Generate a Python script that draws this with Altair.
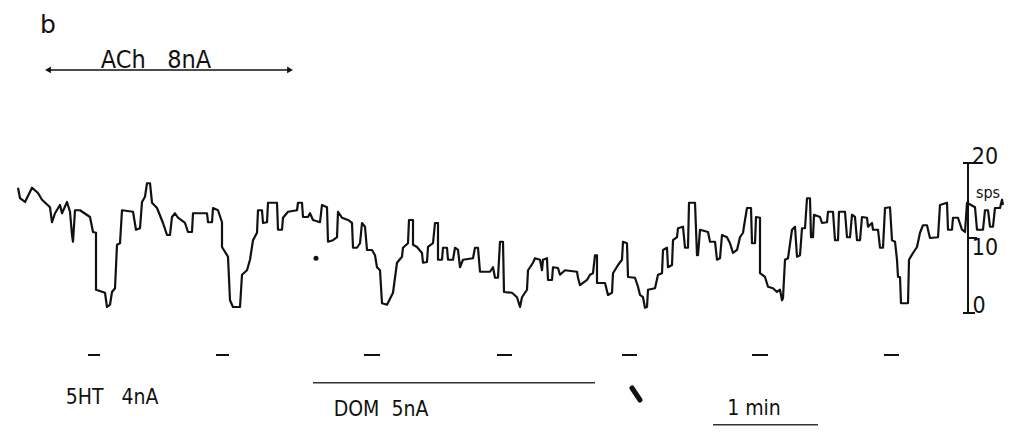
import altair as alt
import pandas as pd

# ---- firing-rate trace: time (min) and rate (spikes/s) ----
trace_t = [0.00,0.02,0.07,0.14,0.20,0.24,0.32,0.34,0.37,0.42,0.44,0.49,0.52,0.54,0.55,0.57,0.62,0.72,0.75,0.78,
           0.78,0.87,0.89,0.92,0.94,0.97,0.99,1.02,1.04,1.15,1.18,1.22,1.24,1.27,1.29,1.32,1.34,1.39,1.45,1.49,
           1.52,1.54,1.57,1.60,1.67,1.70,1.74,1.75,1.89,1.90,1.94,1.95,2.00,2.04,2.04,2.10,2.12,2.15,2.22,2.24,
           2.29,2.32,2.35,2.39,2.40,2.44,2.45,2.49,2.50,2.59,2.60,2.64,2.65,2.70,2.79,2.80,2.84,2.85,2.90,2.92,
           2.95,3.02,3.04,3.09,3.10,3.15,3.19,3.20,3.24,3.30,3.34,3.35,3.39,3.42,3.44,3.47,3.49,3.54,3.57,3.59,
           3.62,3.64,3.69,3.75,3.79,3.84,3.85,3.90,3.91,3.95,3.95,3.99,4.04,4.05,4.09,4.10,4.15,4.17,4.20,4.20,
           4.24,4.25,4.29,4.30,4.35,4.37,4.40,4.42,4.45,4.55,4.57,4.60,4.62,4.72,4.75,4.77,4.80,4.82,4.85,4.86,
           4.94,4.99,5.02,5.04,5.09,5.10,5.15,5.17,5.22,5.24,5.25,5.29,5.30,5.34,5.35,5.40,5.42,5.47,5.59,5.60,
           5.62,5.69,5.72,5.75,5.77,5.79,5.79,5.87,5.90,5.94,5.95,6.00,6.04,6.05,6.09,6.10,6.17,6.20,6.22,6.25,
           6.27,6.29,6.30,6.37,6.40,6.44,6.45,6.49,6.50,6.54,6.55,6.59,6.60,6.65,6.67,6.70,6.71,6.77,6.79,6.80,
           6.82,6.90,6.92,6.97,6.99,7.02,7.04,7.09,7.12,7.15,7.19,7.22,7.25,7.27,7.29,7.33,7.34,7.37,7.38,7.42,
           7.42,7.47,7.50,7.55,7.59,7.62,7.64,7.65,7.67,7.70,7.74,7.77,7.79,7.82,7.84,7.87,7.89,7.92,7.93,7.95,
           7.96,8.02,8.04,8.09,8.10,8.15,8.17,8.20,8.21,8.27,8.29,8.32,8.34,8.37,8.39,8.42,8.44,8.49,8.50,8.54,
           8.55,8.60,8.62,8.65,8.67,8.72,8.74,8.77,8.79,8.80,8.82,8.83,8.90,8.91,8.95,8.99,9.02,9.05,9.09,9.10,
           9.12,9.20,9.22,9.29,9.30,9.34,9.35,9.40,9.44,9.47,9.49,9.57,9.59,9.65,9.67,9.70,9.72,9.75,9.77,9.82,
           9.84,9.85]
trace_rate = [16.7,15.3,14.8,16.7,16.0,15.1,14.1,12.1,13.3,14.4,13.3,14.8,13.5,10.4,9.5,13.7,13.7,12.8,10.8,10.7,
              3.1,2.7,0.8,1.1,2.8,3.3,9.1,9.3,13.7,13.5,11.1,11.3,14.8,15.5,17.3,17.3,14.7,14.0,12.0,10.4,
              10.4,12.8,13.3,12.7,12.0,10.8,10.8,13.3,13.3,12.1,12.1,14.0,13.7,12.1,8.8,7.5,1.7,0.8,0.8,5.1,
              5.7,7.1,9.7,10.7,13.7,13.7,12.0,12.1,14.7,14.7,11.1,11.1,12.7,13.5,13.7,14.7,14.7,12.8,12.8,13.3,
              12.4,12.1,14.4,14.1,9.5,9.7,10.1,13.5,12.7,12.4,12.0,8.7,8.7,9.3,12.0,11.5,8.4,8.4,7.7,6.1,
              5.7,1.3,1.1,2.7,6.7,7.5,8.7,9.3,12.4,12.4,9.1,8.8,8.0,6.7,6.8,8.8,9.3,12.0,12.0,7.1,
              7.1,8.7,8.7,7.1,7.1,8.7,8.4,6.1,7.1,7.3,8.7,8.7,5.5,5.5,6.1,4.7,4.7,9.5,9.5,2.8,
              2.7,2.1,0.8,2.1,3.1,5.7,6.7,7.3,7.1,5.7,7.1,7.3,4.4,4.4,6.1,6.0,5.1,5.7,5.5,4.7,
              3.7,4.4,5.1,5.3,7.7,7.7,4.0,4.0,2.4,2.7,5.3,6.4,7.1,9.5,9.3,4.8,4.7,3.5,2.4,2.1,
              0.7,0.8,3.1,3.3,5.1,5.3,8.4,8.7,6.1,6.4,9.7,10.1,11.3,11.5,8.7,8.7,14.7,14.7,7.7,7.7,
              11.1,10.8,9.5,9.5,7.1,7.3,10.4,10.1,9.3,8.0,8.4,10.1,10.7,12.4,14.0,14.0,9.3,9.3,12.8,12.7,
              5.3,4.8,3.5,3.3,2.8,3.1,1.7,2.0,7.1,7.3,11.1,11.5,7.5,7.7,11.3,11.3,15.3,15.3,10.1,10.1,
              13.1,12.8,12.0,12.1,13.5,13.5,9.7,9.7,13.5,13.5,10.1,10.1,13.1,12.8,9.7,9.7,12.8,12.7,11.5,12.0,
              11.1,11.1,8.7,8.7,14.0,14.1,9.7,9.5,7.1,4.8,4.8,1.3,1.3,7.1,8.0,8.8,10.7,11.7,11.7,11.1,
              10.0,10.1,14.4,14.7,11.1,11.1,12.7,12.7,11.1,10.8,14.7,14.1,11.1,11.1,13.7,13.7,11.5,11.5,14.0,14.0,
              15.1,14.4]

# ---- drug applications (min) ----
ht_starts = [0.70, 1.98, 3.46, 4.79, 6.04, 7.34, 8.66]
ht_ends = [0.82, 2.11, 3.62, 4.94, 6.19, 7.50, 8.81]
ach_period = [0.30, 2.72]
dom_period = [2.95, 5.77]
min_bar = [6.95, 8.00]

# ---- labels (non-breaking spaces keep the wide spacing of the original lettering) ----
NB = "\u00a0"
labels_big = ["ACh" + NB * 3 + "8nA"]
labels_low = ["5HT" + NB * 3 + "4nA", "DOM" + NB * 2 + "5nA", "1" + NB + "min"]
scale_ticks = [0, 10, 20]

FONT = "Liberation Sans Narrow, DejaVu Sans Condensed, Liberation Sans, sans-serif"
INK = "#111111"

xs = alt.Scale(domain=[-0.18, 9.95], nice=False, zero=False)
ys = alt.Scale(domain=[-17.6, 41.73], nice=False, zero=False)

def X(f):
    return alt.X(f, type="quantitative", scale=xs, axis=None)

def Y(f):
    return alt.Y(f, type="quantitative", scale=ys, axis=None)

trace_df = pd.DataFrame({"t": trace_t, "rate": trace_rate, "i": range(len(trace_t))})
trace = alt.Chart(trace_df).mark_line(color=INK, strokeWidth=2.2, strokeJoin="round").encode(
    x=X("t"), y=Y("rate"), order="i:Q")

# 5HT pulse marks
ht_df = pd.DataFrame({"t0": ht_starts, "t1": ht_ends, "r": [-5.6] * len(ht_starts)})
ht = alt.Chart(ht_df).mark_rule(color=INK, strokeWidth=2).encode(x=X("t0"), x2="t1", y=Y("r"))

# ACh arrow
ach_df = pd.DataFrame({"t0": [ach_period[0]], "t1": [ach_period[1]], "r": [32.4]})
ach_line = alt.Chart(ach_df).mark_rule(color=INK, strokeWidth=1.3).encode(x=X("t0"), x2="t1", y=Y("r"))
ach_heads_df = pd.DataFrame({"t": ach_period, "r": [32.4, 32.4], "s": ["triangle-left", "triangle-right"]})
ach_heads = alt.Chart(ach_heads_df).mark_point(filled=True, color=INK, size=45, opacity=1).encode(
    x=X("t"), y=Y("r"), shape=alt.Shape("s:N", scale=None, legend=None))
ach_text = alt.Chart(pd.DataFrame({"t": [1.38], "r": [32.6], "txt": labels_big})).mark_text(
    font=FONT, fontSize=25, color=INK, baseline="alphabetic", align="center").encode(
    x=X("t"), y=Y("r"), text="txt:N")

# DOM line and 1 min bar
dom_df = pd.DataFrame({"t0": [dom_period[0], min_bar[0]], "t1": [dom_period[1], min_bar[1]], "r": [-9.3, -14.9]})
dom_line = alt.Chart(dom_df).mark_rule(color="#333333", strokeWidth=1.3).encode(x=X("t0"), x2="t1", y=Y("r"))

low_text = alt.Chart(pd.DataFrame({"t": [0.94, 3.63, 7.36], "r": [-11.3, -12.9, -12.8], "txt": labels_low})).mark_text(
    font=FONT, fontSize=21, color=INK, align="center", baseline="middle").encode(
    x=X("t"), y=Y("r"), text="txt:N")

panel = alt.Chart(pd.DataFrame({"t": [0.30], "r": [38.4], "txt": ["b"]})).mark_text(
    font="DejaVu Sans", fontSize=25, color=INK, align="center", baseline="middle").encode(
    x=X("t"), y=Y("r"), text="txt:N")

# rate scale bar
bar_df = pd.DataFrame({"t": [9.50], "r0": [0], "r1": [20]})
bar = alt.Chart(bar_df).mark_rule(color=INK, strokeWidth=2).encode(x=X("t"), y=Y("r0"), y2="r1")
tick_df = pd.DataFrame({"t0": [9.45, 9.50, 9.45], "t1": [9.57, 9.59, 9.57], "r": scale_ticks})
ticks = alt.Chart(tick_df).mark_rule(color=INK, strokeWidth=2).encode(x=X("t0"), x2="t1", y=Y("r"))
scale_lab = alt.Chart(pd.DataFrame({"t": [9.61, 9.67, 9.67], "r": [0.9, 8.7, 20.8],
                                    "txt": [str(v) for v in scale_ticks]})).mark_text(
    font=FONT, fontSize=23, color=INK, align="center", baseline="middle").encode(
    x=X("t"), y=Y("r"), text="txt:N")
sps = alt.Chart(pd.DataFrame({"t": [9.70], "r": [16.0], "txt": ["sps"]})).mark_text(
    font=FONT, fontSize=16, color=INK, align="center", baseline="middle").encode(
    x=X("t"), y=Y("r"), text="txt:N")

# stray pen marks
blob = alt.Chart(pd.DataFrame({"t": [6.14, 6.22], "r": [-10.0, -11.6]})).mark_line(
    color=INK, strokeWidth=5, strokeCap="round").encode(x=X("t"), y=Y("r"))
dot = alt.Chart(pd.DataFrame({"t": [2.98], "r": [7.3]})).mark_point(
    filled=True, color=INK, size=25, opacity=1).encode(x=X("t"), y=Y("r"))

chart = alt.layer(trace, ht, ach_line, ach_heads, ach_text, dom_line, low_text, panel,
                  bar, ticks, scale_lab, sps, blob, dot).properties(
    width=1013, height=445, autosize=alt.AutoSizeParams(type="none"), padding=0,
    background="white").configure_view(stroke=None)

chart.save("out.html", embed_options={"renderer": "svg", "actions": False})
